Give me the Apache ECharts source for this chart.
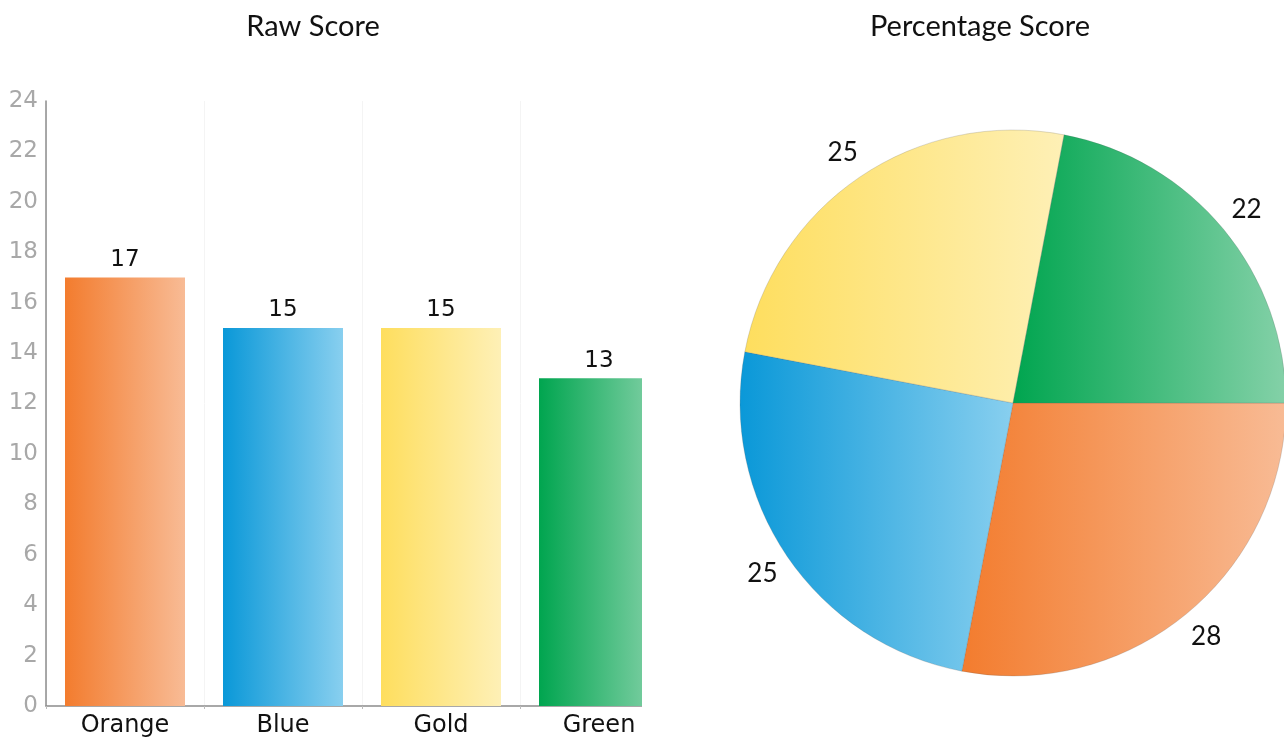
<!DOCTYPE html>
<html>
<head>
<meta charset="utf-8">
<script src="https://cdn.jsdelivr.net/npm/echarts@6/dist/echarts.min.js"></script>
<style>
html,body{margin:0;padding:0;background:#fff;}
#leftWrap{position:absolute;left:0;top:0;width:642px;height:737px;overflow:hidden;}
#left{position:absolute;left:0;top:0;width:720px;height:737px;}
#right{position:absolute;left:642px;top:0;width:642px;height:737px;}
</style>
</head>
<body>
<div id="leftWrap"><div id="left"></div></div>
<div id="right"></div>
<script>
const categories = ['Orange', 'Blue', 'Gold', 'Green'];
const rawScores = [17, 15, 15, 13];
const percentScores = [28, 25, 25, 22];
const yTicks = { min: 0, max: 24, interval: 2 };
const barTitle = 'Raw Score';
const pieTitle = 'Percentage Score';
const gradStops = {
  Orange: ['#F37C2E', '#F8BB95'],
  Blue: ['#0A98D8', '#88CFEF'],
  Gold: ['#FEDE5E', '#FEF0B6'],
  Green: ['#00A54F', '#84D1A8']
};
function grad(name) {
  const c = gradStops[name];
  return new echarts.graphic.LinearGradient(0, 0, 1, 0, [
    { offset: 0, color: c[0] }, { offset: 1, color: c[1] }
  ]);
}

const left = echarts.init(document.getElementById('left'), null, { renderer: 'canvas' });
left.setOption({
  animation: false,
  title: {
    text: barTitle, left: 308, top: 7, textAlign: 'center',
    textStyle: { fontFamily: 'Lato', fontWeight: 'normal', fontSize: 29, color: '#111' }
  },
  grid: { left: 46, top: 101, bottom: 31, right: 42, containLabel: false, outerBoundsMode: 'none' },
  xAxis: {
    type: 'category', data: categories,
    axisLine: { show: true, lineStyle: { color: '#8c8c8c', width: 1.5 } },
    axisTick: { show: true, length: 3, lineStyle: { color: '#bbb' } },
    splitLine: { show: true, lineStyle: { color: '#f4f4f4', width: 1 } },
    axisLabel: { fontFamily: 'DejaVu Sans', fontSize: 24, color: '#111', margin: 8 }
  },
  yAxis: {
    type: 'value', min: yTicks.min, max: yTicks.max, interval: yTicks.interval,
    axisLine: { show: true, lineStyle: { color: '#8c8c8c', width: 1.5 } },
    axisTick: { show: false },
    splitLine: { show: false },
    axisLabel: { fontFamily: 'DejaVu Sans', fontSize: 23, color: '#a8a8a8', margin: 8 }
  },
  series: [{
    type: 'bar', barWidth: 120,
    data: categories.map((c, i) => ({ value: rawScores[i], itemStyle: { color: grad(c) } })),
    label: { show: true, position: 'top', distance: 6, fontFamily: 'DejaVu Sans', fontSize: 23, color: '#111' }
  }]
});

const right = echarts.init(document.getElementById('right'), null, { renderer: 'canvas' });
const pieData = categories.map((c, i) => ({ name: c, value: percentScores[i], itemStyle: { color: grad(c) } }));
right.setOption({
  animation: false,
  title: {
    text: pieTitle, left: 333, top: 7, textAlign: 'center',
    textStyle: { fontFamily: 'Lato', fontWeight: 'normal', fontSize: 29, color: '#111' }
  },
  series: [{
    type: 'pie', center: [371, 403], radius: [0, 273], startAngle: 0, clockwise: true,
    data: pieData, label: { show: false }, labelLine: { show: false },
    itemStyle: { borderWidth: 0.6, borderColor: 'rgba(90,90,90,0.35)' },
    emphasis: { disabled: true }
  }, {
    type: 'pie', center: [371, 403], radius: [290, 310], startAngle: 0, clockwise: true, silent: true,
    data: categories.map((c, i) => ({ name: c, value: percentScores[i] })),
    itemStyle: { color: 'rgba(0,0,0,0)' },
    label: { show: true, position: 'inside', formatter: '{c}', fontFamily: 'Lato', fontSize: 26, color: '#111' },
    labelLine: { show: false },
    emphasis: { disabled: true }
  }]
});
</script>
</body>
</html>
